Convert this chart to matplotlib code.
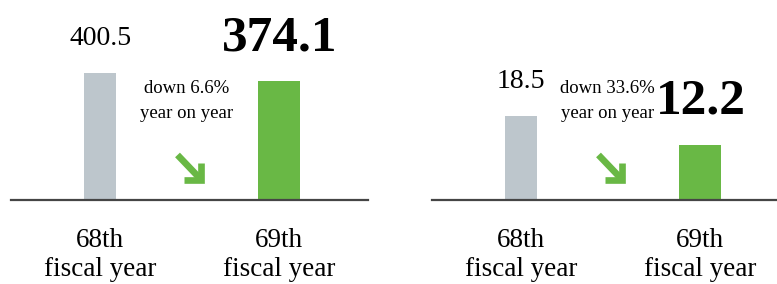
import matplotlib
matplotlib.use("Agg")
import matplotlib.pyplot as plt
import matplotlib.transforms as mtransforms

# data
years = ["68th\nfiscal year", "69th\nfiscal year"]
left_values = [400.5, 374.1]
right_values = [18.5, 12.2]
left_note = "down 6.6%\nyear on year"
right_note = "down 33.6%\nyear on year"

gray = "#bdc6cc"
green = "#69b845"
serif = "Liberation Serif"

fig = plt.figure(figsize=(7.77, 2.84), dpi=100)


def panel(left_px, values, ymax, note):
    ax = fig.add_axes([left_px / 777, 84 / 284, 357 / 777, 180 / 284])
    ax.bar([0], values[:1], width=0.18, color=gray)
    ax.bar([1], values[1:], width=0.235, color=green)
    ax.set_xlim(-0.5, 1.5)
    ax.set_ylim(0, ymax)
    for s in ["top", "right", "left"]:
        ax.spines[s].set_visible(False)
    ax.spines["bottom"].set_color("#454545")
    ax.spines["bottom"].set_linewidth(1.6)
    ax.set_yticks([])
    ax.set_xticks([0, 1])
    ax.set_xticklabels(years, family=serif, fontsize=19.5, linespacing=1.2)
    ax.tick_params(axis="x", length=0, pad=20)

    # value labels
    ax.annotate(f"{values[0]}", (0, values[0]), xytext=(0, 25), textcoords="offset points",
                ha="center", va="center", family=serif, fontsize=20)
    ax.annotate(f"{values[1]}", (1, values[1]), xytext=(1, 31), textcoords="offset points",
                ha="center", va="center", family=serif, fontsize=37, fontweight="bold")

    # change note
    ax.text(0.485, 0.55, note, transform=mtransforms.blended_transform_factory(ax.transData, ax.transAxes),
            ha="center", va="center", family=serif, fontsize=13.5, linespacing=1.6)

    # down-right arrow
    base = mtransforms.blended_transform_factory(ax.transData, ax.transAxes)
    tr = fig.dpi_scale_trans + mtransforms.ScaledTranslation(0.5, 0.178, base)
    ax.plot([-0.12, 0.10], [0.13, -0.10], color=green, lw=4.8, transform=tr,
            solid_capstyle="butt", clip_on=False)
    ax.plot([-0.06, 0.115, 0.115], [-0.125, -0.125, 0.05], color=green, lw=4.8, transform=tr,
            solid_joinstyle="miter", solid_capstyle="butt", clip_on=False)
    return ax


panel(11, left_values, 567.6, left_note)
panel(432, right_values, 39.6, right_note)

fig.savefig("out.png", dpi=100)
